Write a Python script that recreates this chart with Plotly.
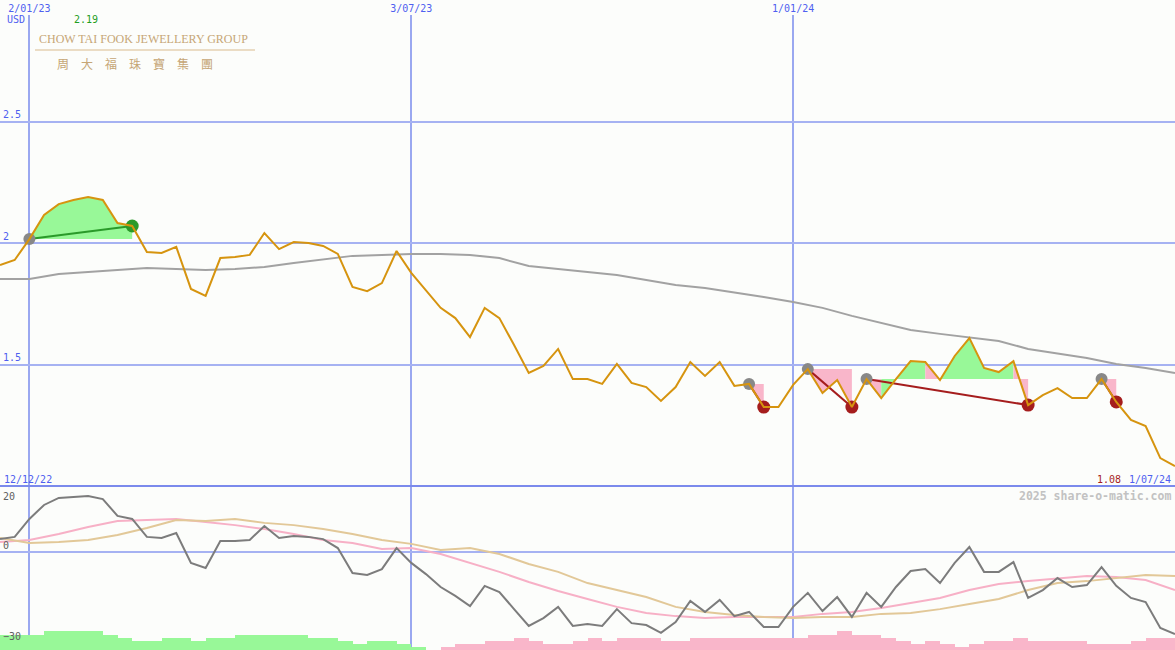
import plotly.graph_objects as go
import pandas as pd

W, H = 1175, 650
TOP = 15

# ---------------- data ----------------
weeks = pd.date_range("2022-12-19", periods=81, freq="7D")

price = [1.909, 1.930, 2.016, 2.115, 2.160, 2.177, 2.189, 2.177, 2.082, 2.070,
         1.963, 1.959, 1.984, 1.811, 1.782, 1.938, 1.942, 1.951, 2.041, 1.975,
         2.004, 2.000, 1.988, 1.955, 1.819, 1.802, 1.835, 1.967, 1.877, 1.807,
         1.733, 1.691, 1.613, 1.733, 1.691, 1.580, 1.465, 1.494, 1.564, 1.440,
         1.440, 1.420, 1.502, 1.424, 1.407, 1.350, 1.407, 1.510, 1.453, 1.510,
         1.412, 1.420, 1.325, 1.325, 1.416, 1.481, 1.383, 1.436, 1.325, 1.440,
         1.362, 1.440, 1.514, 1.510, 1.436, 1.535, 1.609, 1.486, 1.469, 1.514,
         1.333, 1.374, 1.403, 1.362, 1.362, 1.440, 1.346, 1.272, 1.247, 1.115,
         1.082]

ma_dates = weeks[::2]
ma_long = [1.852, 1.852, 1.872, 1.881, 1.889, 1.897, 1.893, 1.889, 1.893, 1.901,
           1.918, 1.934, 1.947, 1.951, 1.955, 1.955, 1.951, 1.938, 1.905, 1.893,
           1.881, 1.868, 1.848, 1.827, 1.815, 1.798, 1.778, 1.757, 1.733, 1.700,
           1.671, 1.642, 1.626, 1.613, 1.597, 1.564, 1.547, 1.527, 1.502, 1.486,
           1.465]

osc = [4.6, 5.4, 11.8, 16.8, 19.3, 19.6, 20.0, 18.9, 12.9, 11.8,
       5.4, 5.0, 6.8, -3.9, -5.7, 3.9, 3.9, 4.3, 9.3, 5.0,
       5.7, 5.4, 4.6, 1.4, -7.5, -8.2, -6.1, 1.4, -3.9, -7.9,
       -12.5, -15.7, -19.3, -12.1, -14.3, -20.4, -26.4, -23.6, -19.6, -26.4,
       -25.7, -26.4, -20.4, -25.4, -26.1, -28.9, -25.0, -17.5, -21.4, -17.1,
       -22.9, -21.4, -26.8, -26.8, -19.6, -14.6, -21.1, -16.1, -23.2, -14.6,
       -19.6, -12.5, -6.8, -6.1, -11.1, -3.9, 1.8, -7.1, -7.1, -3.6,
       -16.4, -13.6, -9.3, -12.5, -11.8, -5.4, -12.1, -16.4, -17.9, -27.1,
       -29.3]

osc_pink = [3.6, 4.3, 6.4, 8.9, 11.1, 11.4, 11.8, 10.7, 9.6, 8.2,
            6.4, 4.3, 3.2, 1.1, 1.4, -0.7, -3.9, -7.1, -10.7, -13.9,
            -16.8, -19.6, -21.8, -22.9, -23.6, -23.2, -23.2, -23.2, -22.1, -21.4,
            -20.0, -18.2, -16.4, -13.6, -11.4, -10.4, -9.6, -8.6, -8.9, -10.0,
            -13.6]

osc_tan = [5.0, 3.2, 3.6, 4.3, 6.1, 8.6, 11.4, 11.1, 11.8, 10.4,
           9.6, 8.2, 6.4, 4.3, 2.9, 0.7, 1.4, -0.7, -4.3, -7.1,
           -11.1, -13.6, -16.1, -19.6, -21.4, -22.5, -23.2, -23.6, -23.2, -23.2,
           -22.1, -21.8, -20.4, -18.6, -16.8, -13.6, -11.1, -10.4, -9.3, -8.2,
           -8.6]

hist = [15, 15, 15, 19, 19, 19, 19, 15, 12, 9,
        9, 12, 12, 9, 12, 12, 15, 15, 15, 15,
        15, 12, 12, 9, 6, 9, 9, 6, 3, 0,
        -3, -6, -6, -9, -9, -12, -9, -6, -6, -9,
        -12, -9, -12, -12, -12, -9, -9, -12, -12, -12,
        -12, -12, -12, -12, -12, -15, -15, -19, -15, -15,
        -12, -9, -6, -9, -6, -3, -6, -9, -9, -12,
        -9, -9, -9, -9, -6, -6, -6, -9, -12, -12]

signal_start = [2, 51, 55, 59, 75]
signal_end = [9, 52, 58, 70, 76]
signal_kind = ["up", "down", "down", "down", "down"]
signal_fill = ["ggggggg", "p", "ppp", "pgggpgggggp", "p"]

grid_dates = ["2023-01-02", "2023-07-03", "2024-01-01"]
price_ticks = [1.5, 2, 2.5]

# ---------------- styles ----------------
BG = "#fcfdfb"
BLUE_TXT = "#4f5ff0"
GRID = "#a6b2f2"
VGRID = "#9aa8f0"
SEP = "#7b8aec"
ORANGE = "#d6940f"
GREEN_FILL = "#98f898"
PINK_FILL = "#f9b6ca"
RED = "#a51d1d"
GREEN = "#2a9a2a"
MONO = "DejaVu Sans Mono"


def py(ypix):
    return (H - ypix) / (H - TOP)


split = py(487)
osc_range = [-35.0, (552 - 487) / 2.8]

fig = go.Figure()

# histogram bars (bottom panel)
fig.add_trace(go.Bar(
    x=weeks[:len(hist)], y=[abs(v) for v in hist],
    marker=dict(color=[GREEN_FILL if v > 0 else PINK_FILL for v in hist], line=dict(width=0)),
    width=7 * 86400000, offset=0, xaxis="x2", yaxis="y2", hoverinfo="skip"))

# oscillator lines
fig.add_trace(go.Scatter(x=ma_dates, y=osc_pink, mode="lines",
                         line=dict(color="#f7b0c6", width=2), xaxis="x2", yaxis="y3"))
fig.add_trace(go.Scatter(x=ma_dates, y=osc_tan, mode="lines",
                         line=dict(color="#e2c898", width=2), xaxis="x2", yaxis="y3"))
fig.add_trace(go.Scatter(x=weeks, y=osc, mode="lines",
                         line=dict(color="#7c7c7c", width=2), xaxis="x2", yaxis="y4"))

# signal fills
for s, e, pat in zip(signal_start, signal_end, signal_fill):
    level = price[s]
    k = 0
    while k < len(pat):
        c = pat[k]
        j = k
        while j + 1 < len(pat) and pat[j + 1] == c:
            j += 1
        a, b = s + k, s + j + 1
        xs = list(weeks[a:b + 1]) + [weeks[b], weeks[a]]
        ys = price[a:b + 1] + [level, level]
        fig.add_trace(go.Scatter(x=xs, y=ys, mode="none", fill="toself",
                                 fillcolor=GREEN_FILL if c == "g" else PINK_FILL,
                                 hoverinfo="skip"))
        k = j + 1

# long moving average
fig.add_trace(go.Scatter(x=ma_dates, y=ma_long, mode="lines",
                         line=dict(color="#a2a2a2", width=2)))

# signal connecting lines
for s, e, kind in zip(signal_start, signal_end, signal_kind):
    fig.add_trace(go.Scatter(x=[weeks[s], weeks[e]], y=[price[s], price[e]], mode="lines",
                             line=dict(color=GREEN if kind == "up" else RED, width=2)))

# markers
fig.add_trace(go.Scatter(x=[weeks[s] for s in signal_start], y=[price[s] for s in signal_start],
                         mode="markers", marker=dict(color="#888888", size=12)))
fig.add_trace(go.Scatter(x=[weeks[e] for e in signal_end], y=[price[e] for e in signal_end],
                         mode="markers",
                         marker=dict(color=[GREEN if k == "up" else RED for k in signal_kind], size=13)))

# price line
fig.add_trace(go.Scatter(x=weeks, y=price, mode="lines", line=dict(color=ORANGE, width=2)))

x_range = [weeks[0], weeks[-1]]

fig.update_layout(
    width=W, height=H,
    margin=dict(l=0, r=0, t=TOP, b=0, pad=0),
    paper_bgcolor=BG, plot_bgcolor=BG,
    showlegend=False, hovermode=False,
    bargap=0,
    xaxis=dict(domain=[0, 1], anchor="y", side="top", range=x_range,
               tickvals=grid_dates, tickformat="%-d/%m/%y", ticks="",
               tickfont=dict(family=MONO, size=10, color=BLUE_TXT),
               showgrid=True, gridcolor=VGRID, gridwidth=1.5, zeroline=False, showline=False),
    yaxis=dict(domain=[split, 1], anchor="x", range=[2 - (487 - 243) / 243, 2 + (243 - TOP) / 243],
               tickvals=price_ticks, ticks="", ticklabelposition="inside top",
               tickfont=dict(family=MONO, size=10, color=BLUE_TXT),
               showgrid=True, gridcolor=GRID, gridwidth=2, zeroline=False, showline=False),
    xaxis2=dict(domain=[0, 1], anchor="y2", side="top", matches="x", range=x_range,
                tickvals=grid_dates, showticklabels=False, ticks="",
                showgrid=True, gridcolor=VGRID, gridwidth=1.5, zeroline=False,
                showline=True, linecolor=SEP, linewidth=2),
    yaxis2=dict(domain=[0, split], anchor="x2", range=[0, 163],
                showticklabels=False, ticks="", showgrid=False, zeroline=False, showline=False),
    yaxis3=dict(overlaying="y2", anchor="x2", range=osc_range,
                tickvals=[0], ticks="", ticklabelposition="inside top",
                tickfont=dict(family=MONO, size=10, color="#606060"),
                showgrid=False, zeroline=True, zerolinecolor=GRID, zerolinewidth=2, showline=False),
    yaxis4=dict(overlaying="y2", anchor="x2", range=osc_range,
                tickvals=[20, -30], ticks="", ticklabelposition="inside",
                tickfont=dict(family=MONO, size=10, color="#606060"),
                showgrid=False, zeroline=False, showline=False),
)

ann = []
ann.append(dict(text="USD", x=5 / W, y=py(20), xanchor="left", yanchor="middle",
                font=dict(family=MONO, size=10, color=BLUE_TXT)))
ann.append(dict(text=f"{max(price):.2f}", x=72 / W, y=py(20), xanchor="left", yanchor="middle",
                font=dict(family=MONO, size=10, color="#1f9e1f")))
ann.append(dict(text="CHOW TAI FOOK JEWELLERY GROUP", x=37 / W, y=py(39), xanchor="left",
                yanchor="middle", font=dict(family="Liberation Serif", size=12, color="#c6a676")))
ann.append(dict(text="周　大　福　珠　寶　集　團", x=55 / W, y=py(63), xanchor="left",
                yanchor="middle", font=dict(family="Noto Sans CJK TC", size=12, color="#c6a676")))
ann.append(dict(text="12/12/22", x=2 / W, y=py(479), xanchor="left", yanchor="middle",
                font=dict(family=MONO, size=10, color=BLUE_TXT)))
ann.append(dict(text=f"{price[-1]:.2f}", x=1123 / W, y=py(479), xanchor="right", yanchor="middle",
                font=dict(family=MONO, size=10, color=RED)))
ann.append(dict(text="1/07/24", x=1173 / W, y=py(479), xanchor="right", yanchor="middle",
                font=dict(family=MONO, size=10, color=BLUE_TXT)))
ann.append(dict(text="<b>2025 share-o-matic.com</b>", x=1173 / W, y=py(496), xanchor="right",
                yanchor="middle", font=dict(family=MONO, size=11.5, color="#c2c2c2")))
for a in ann:
    a.update(xref="paper", yref="paper", showarrow=False)
fig.update_layout(annotations=ann)

fig.add_shape(type="line", xref="paper", yref="paper", x0=35 / W, x1=255 / W, y0=py(50), y1=py(50),
              line=dict(color="#d9bb8e", width=1))

fig.write_html("out.html", config={"displayModeBar": False},
               post_script="document.body.style.margin='0';")
